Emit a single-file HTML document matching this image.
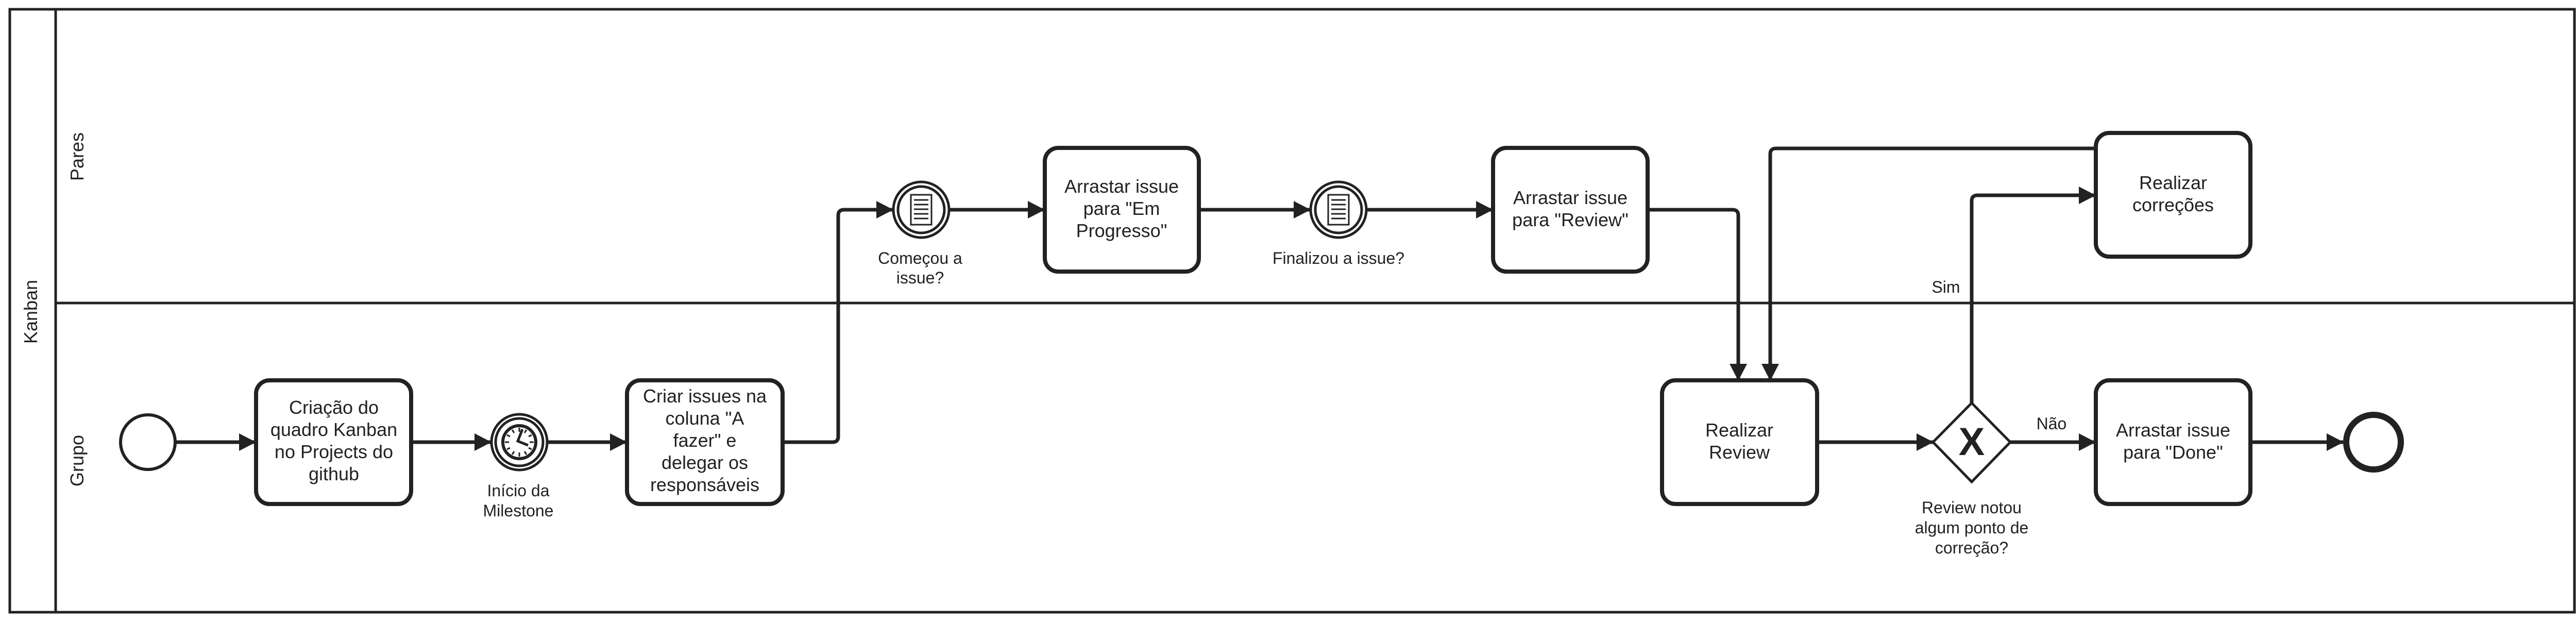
<!DOCTYPE html>
<html><head><meta charset="utf-8"><style>
html,body{margin:0;padding:0;background:#fff}
svg{display:block}
text{font-family:"Liberation Sans",sans-serif;fill:#222}
</style></head><body>
<svg width="5010" height="1207" viewBox="0 0 5010 1207" xmlns="http://www.w3.org/2000/svg">
<defs>
<marker id="a" markerUnits="userSpaceOnUse" markerWidth="34" markerHeight="34" refX="32" refY="17" orient="auto">
<path d="M0,0 L33,17 L0,34 Z" fill="#222"/></marker>
</defs>
<g fill="none" stroke="#222">
<rect x="19" y="18" width="4978" height="1170" stroke-width="5"/>
<line x1="108" y1="18" x2="108" y2="1188" stroke-width="5"/>
<line x1="108" y1="588" x2="4997" y2="588" stroke-width="5"/>
</g>
<text transform="translate(72,605) rotate(-90)" font-size="36" text-anchor="middle">Kanban</text>
<text transform="translate(162,304) rotate(-90)" font-size="36" text-anchor="middle">Pares</text>
<text transform="translate(162,894) rotate(-90)" font-size="36" text-anchor="middle">Grupo</text>

<g fill="none" stroke="#222" stroke-width="7" stroke-linejoin="round">
<path d="M340,858 H496" marker-end="url(#a)"/>
<path d="M798,858 H953" marker-end="url(#a)"/>
<path d="M1063,858 H1216" marker-end="url(#a)"/>
<path d="M1519,858 H1616 Q1627,858 1627,847 V418 Q1627,407 1638,407 H1733" marker-end="url(#a)"/>
<path d="M1843,407 H2027" marker-end="url(#a)"/>
<path d="M2327,407 H2543" marker-end="url(#a)"/>
<path d="M2653,407 H2897" marker-end="url(#a)"/>
<path d="M3198,407 H3363 Q3374,407 3374,418 V738" marker-end="url(#a)"/>
<path d="M4068,288 H3447 Q3436,288 3436,299 V738" marker-end="url(#a)"/>
<path d="M3527,858 H3752" marker-end="url(#a)"/>
<path d="M3827,782 V390 Q3827,379 3838,379 H4067" marker-end="url(#a)"/>
<path d="M3902,858 H4067" marker-end="url(#a)"/>
<path d="M4368,858 H4548" marker-end="url(#a)"/>
</g>

<g fill="#fff" stroke="#222" stroke-width="8">
<rect x="497" y="738" width="301" height="240" rx="26"/>
<rect x="1217" y="738" width="302" height="240" rx="26"/>
<rect x="2028" y="287" width="299" height="240" rx="26"/>
<rect x="2898" y="287" width="300" height="240" rx="26"/>
<rect x="3226" y="738" width="301" height="240" rx="26"/>
<rect x="4068" y="258" width="300" height="240" rx="26"/>
<rect x="4068" y="738" width="300" height="240" rx="26"/>
</g>
<circle cx="287" cy="858" r="53" fill="#fff" stroke="#222" stroke-width="6"/>
<circle cx="4607" cy="858" r="53" fill="#fff" stroke="#222" stroke-width="12"/>

<g fill="none" stroke="#222">
<circle cx="1008" cy="858" r="54" stroke-width="5" fill="#fff"/>
<circle cx="1008" cy="858" r="46" stroke-width="5"/>
<circle cx="1008" cy="858" r="32" stroke-width="6"/>
<path d="M1008,830 v8 M1008,886 v-8 M980,858 h8 M1036,858 h-8 M994,834 l4,6 M1022,834 l-4,6 M994,882 l4,-6 M1022,882 l-4,-6 M984,844 l6,3 M1032,844 l-6,3 M984,872 l6,-3 M1032,872 l-6,-3" stroke-width="3"/>
<path d="M1014,833 L1005,856 L1025,864" stroke-width="5"/>
</g>
<g fill="none" stroke="#222">
<circle cx="1788" cy="407" r="54" stroke-width="5" fill="#fff"/>
<circle cx="1788" cy="407" r="45" stroke-width="5"/>
<rect x="1768" y="378" width="40" height="58" stroke-width="3"/>
<path d="M1774,388 h28 M1774,397 h28 M1774,406 h28 M1774,415 h28 M1774,424 h28" stroke-width="3"/>
<circle cx="2598" cy="407" r="54" stroke-width="5" fill="#fff"/>
<circle cx="2598" cy="407" r="45" stroke-width="5"/>
<rect x="2578" y="378" width="40" height="58" stroke-width="3"/>
<path d="M2584,388 h28 M2584,397 h28 M2584,406 h28 M2584,415 h28 M2584,424 h28" stroke-width="3"/>
</g>
<path d="M3827,782 L3902,858 L3827,935 L3752,858 Z" fill="#fff" stroke="#222" stroke-width="5"/>
<text x="3827" y="883" font-size="76" font-weight="bold" text-anchor="middle">X</text>

<g font-size="36" text-anchor="middle">
<text x="648" y="803">Criação do</text><text x="648" y="846">quadro Kanban</text><text x="648" y="889">no Projects do</text><text x="648" y="932">github</text>
<text x="1368" y="781">Criar issues na</text><text x="1368" y="824">coluna "A</text><text x="1368" y="867">fazer" e</text><text x="1368" y="910">delegar os</text><text x="1368" y="953">responsáveis</text>
<text x="2177" y="374">Arrastar issue</text><text x="2177" y="417">para "Em</text><text x="2177" y="460">Progresso"</text>
<text x="3048" y="396">Arrastar issue</text><text x="3048" y="439">para "Review"</text>
<text x="3376" y="847">Realizar</text><text x="3376" y="890">Review</text>
<text x="4218" y="367">Realizar</text><text x="4218" y="410">correções</text>
<text x="4218" y="847">Arrastar issue</text><text x="4218" y="890">para "Done"</text>
</g>
<g font-size="32" text-anchor="middle">
<text x="1006" y="963">Início da</text><text x="1006" y="1002">Milestone</text>
<text x="1786" y="512">Começou a</text><text x="1786" y="550">issue?</text>
<text x="2598" y="512">Finalizou a issue?</text>
<text x="3777" y="568">Sim</text>
<text x="3982" y="833">Não</text>
<text x="3827" y="996">Review notou</text><text x="3827" y="1035">algum ponto de</text><text x="3827" y="1074">correção?</text>
</g>
</svg>
</body></html>
